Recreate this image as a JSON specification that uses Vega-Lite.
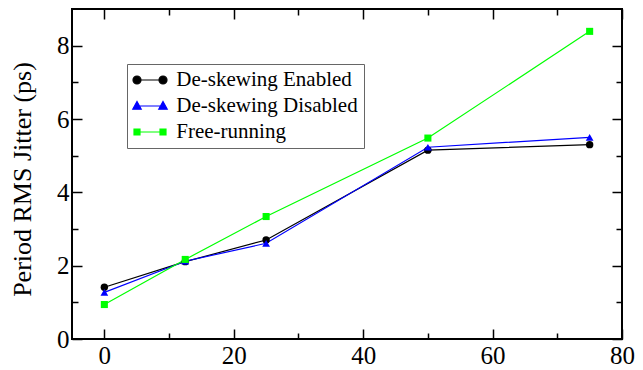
{
  "$schema": "https://vega.github.io/schema/vega-lite/v6.json",
  "width": 550,
  "height": 330,
  "autosize": {"type": "none"},
  "padding": {"left": 72, "top": 9, "right": 21, "bottom": 31},
  "background": "white",
  "config": {
    "view": {"stroke": "black", "strokeWidth": 2},
    "font": "Liberation Serif",
    "axis": {
      "grid": false,
      "domain": false,
      "labelFont": "Liberation Serif",
      "labelFontSize": 25,
      "labelColor": "black",
      "tickColor": "black",
      "tickWidth": 1.5,
      "titleFont": "Liberation Serif",
      "titleFontWeight": "normal",
      "titleColor": "black"
    }
  },
  "data": {
    "values": [
      {"series": "De-skewing Enabled", "x": 0, "y": 1.41},
      {"series": "De-skewing Enabled", "x": 12.5, "y": 2.11},
      {"series": "De-skewing Enabled", "x": 25, "y": 2.70},
      {"series": "De-skewing Enabled", "x": 50, "y": 5.15},
      {"series": "De-skewing Enabled", "x": 75, "y": 5.30},
      {"series": "De-skewing Disabled", "x": 0, "y": 1.27},
      {"series": "De-skewing Disabled", "x": 12.5, "y": 2.12},
      {"series": "De-skewing Disabled", "x": 25, "y": 2.61},
      {"series": "De-skewing Disabled", "x": 50, "y": 5.23},
      {"series": "De-skewing Disabled", "x": 75, "y": 5.50},
      {"series": "Free-running", "x": 0, "y": 0.94},
      {"series": "Free-running", "x": 12.5, "y": 2.17},
      {"series": "Free-running", "x": 25, "y": 3.34},
      {"series": "Free-running", "x": 50, "y": 5.48},
      {"series": "Free-running", "x": 75, "y": 8.39}
    ]
  },
  "layer": [
    {
      "mark": {"type": "line", "strokeWidth": 1.2},
      "encoding": {
        "x": {
          "field": "x", "type": "quantitative",
          "scale": {"domain": [-5, 80], "nice": false, "zero": false},
          "axis": {
            "orient": "bottom",
            "values": [0, 10, 20, 30, 40, 50, 60, 70, 80],
            "tickSize": {"condition": {"test": "datum.value % 20 === 0", "value": -10}, "value": -6},
            "labelExpr": "datum.value % 20 === 0 ? datum.label : ''",
            "labelPadding": 14,
            "labelFlush": false,
            "labelOverlap": false,
            "title": null
          }
        },
        "y": {
          "field": "y", "type": "quantitative",
          "scale": {"domain": [0, 9], "nice": false},
          "axis": {
            "orient": "left",
            "values": [0, 1, 2, 3, 4, 5, 6, 7, 8],
            "tickSize": {"condition": {"test": "datum.value % 2 === 0", "value": -10}, "value": -6},
            "labelExpr": "datum.value % 2 === 0 ? datum.label : ''",
            "labelPadding": 13,
            "labelFlush": false,
            "labelOverlap": false,
            "title": "Period RMS Jitter (ps)",
            "titleFontSize": 26,
            "titleX": -42,
            "titleY": 170,
            "titleAngle": -90,
            "titleAlign": "center",
            "titleBaseline": "alphabetic"
          }
        },
        "color": {
          "field": "series", "type": "nominal",
          "scale": {"domain": ["De-skewing Enabled", "De-skewing Disabled", "Free-running"], "range": ["#000000", "#0000ff", "#00ff00"]},
          "legend": {
            "orient": "none",
            "legendX": 55,
            "legendY": 55,
            "title": null,
            "direction": "vertical",
            "labelFont": "Liberation Serif",
            "labelFontSize": 21,
            "labelColor": "black",
            "labelLimit": 0,
            "padding": 5.5,
            "strokeColor": "#666666",
            "fillColor": "white",
            "symbolSize": 169,
            "symbolOffset": 7,
            "labelOffset": 15.8,
            "rowPadding": 4,
            "symbolStrokeWidth": 1.2,
            "encode": {
              "symbols": {
                "update": {
                  "shape": {"signal": "datum.value === 'De-skewing Enabled' ? 'M-2,0L2,0M-1.385,0A0.615,0.615,0,1,1,-2.615,0A0.615,0.615,0,1,1,-1.385,0ZM2.615,0A0.615,0.615,0,1,1,1.385,0A0.615,0.615,0,1,1,2.615,0Z' : datum.value === 'De-skewing Disabled' ? 'M-2,0L2,0M-2,-0.7L-1.35,0.5L-2.65,0.5ZM2,-0.7L2.65,0.5L1.35,0.5Z' : 'M-2,0L2,0M-2.46,-0.46H-1.54V0.46H-2.46ZM1.54,-0.46H2.46V0.46H1.54Z'"},
                  "fill": {"signal": "scale('color', datum.value)"},
                  "stroke": {"signal": "scale('color', datum.value)"},
                  "fillOpacity": {"value": 1}
                }
              }
            }
          }
        }
      }
    },
    {
      "transform": [{"filter": "datum.series === 'De-skewing Enabled'"}],
      "mark": {"type": "point", "filled": true, "opacity": 1, "shape": "circle", "color": "#000000", "size": 55},
      "encoding": {
        "x": {
          "field": "x", "type": "quantitative",
          "axis": {
            "orient": "top",
            "values": [0, 10, 20, 30, 40, 50, 60, 70, 80],
            "tickSize": {"condition": {"test": "datum.value % 20 === 0", "value": -10}, "value": -6},
            "labels": false,
            "title": null
          }
        },
        "y": {
          "field": "y", "type": "quantitative",
          "axis": {
            "orient": "right",
            "values": [0, 1, 2, 3, 4, 5, 6, 7, 8],
            "tickSize": {"condition": {"test": "datum.value % 2 === 0", "value": -10}, "value": -6},
            "labels": false,
            "title": null
          }
        }
      }
    },
    {
      "transform": [{"filter": "datum.series === 'De-skewing Disabled'"}],
      "mark": {"type": "point", "filled": true, "opacity": 1, "shape": "triangle-up", "color": "#0000ff", "size": 60},
      "encoding": {
        "x": {"field": "x", "type": "quantitative", "axis": null},
        "y": {"field": "y", "type": "quantitative", "axis": null}
      }
    },
    {
      "transform": [{"filter": "datum.series === 'Free-running'"}],
      "mark": {"type": "point", "filled": true, "opacity": 1, "shape": "square", "color": "#00ff00", "size": 50},
      "encoding": {
        "x": {"field": "x", "type": "quantitative", "axis": null},
        "y": {"field": "y", "type": "quantitative", "axis": null}
      }
    }
  ],
  "resolve": {"axis": {"x": "independent", "y": "independent"}}
}
